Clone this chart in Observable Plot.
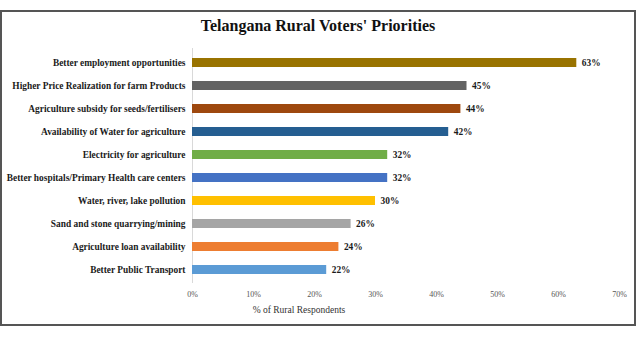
<!DOCTYPE html>
<html>
<head>
<meta charset="utf-8">
<script src="https://cdn.jsdelivr.net/npm/d3@7"></script>
<script src="https://cdn.jsdelivr.net/npm/@observablehq/plot@0.6"></script>
<style>
  html, body { margin: 0; padding: 0; background: #fff; }
  #frame {
    position: absolute; left: 0; top: 10px;
    width: 632px; height: 312px;
    border: 2px solid #555;
    background: #fff;
  }
  #title {
    height: 28px; line-height: 28px;
    text-align: center;
    font-family: "Liberation Serif", serif;
    font-weight: bold; font-size: 16px; color: #111;
  }
</style>
</head>
<body>
<div id="frame">
  <div id="title">Telangana Rural Voters' Priorities</div>
  <div id="chart"></div>
</div>
<script>
const categories = [
  "Better employment opportunities",
  "Higher Price Realization for farm Products",
  "Agriculture subsidy for seeds/fertilisers",
  "Availability of Water for agriculture",
  "Electricity for agriculture",
  "Better hospitals/Primary Health care centers",
  "Water, river, lake pollution",
  "Sand and stone quarrying/mining",
  "Agriculture loan availability",
  "Better Public Transport"
];
const values = [63, 45, 44, 42, 32, 32, 30, 26, 24, 22];
const colors = ["#997300", "#636363", "#9E480E", "#255E91", "#70AD47",
                "#4472C4", "#FFC000", "#A5A5A5", "#ED7D31", "#5B9BD5"];
const xTicks = [0, 10, 20, 30, 40, 50, 60, 70];
const xLabel = "% of Rural Respondents";

const data = categories.map((c, i) => ({category: c, value: values[i], color: colors[i]}));

const chart = Plot.plot({
  width: 632,
  height: 283,
  marginLeft: 190,
  marginRight: 15,
  marginTop: 8,
  marginBottom: 40,
  style: {fontFamily: "Liberation Serif, serif", background: "#fff"},
  x: {domain: [0, 70]},
  y: {domain: categories, paddingInner: 0.62, paddingOuter: 0.3},
  color: {type: "identity"},
  marks: [
    Plot.axisY({tickSize: 0, tickPadding: 7, fontSize: 9.4, fontWeight: "bold", fill: "#1a1a1a", label: null}),
    Plot.axisX({ticks: xTicks, tickSize: 0, tickPadding: 8, fontSize: 8, fill: "#555", tickFormat: d => d + "%", label: null}),
    Plot.ruleX([0], {stroke: "#d9d9d9"}),
    Plot.barX(data, {y: "category", x: "value", fill: "color"}),
    Plot.text(data, {y: "category", x: "value", text: d => d.value + "%", textAnchor: "start", dx: 5, fontSize: 9.4, fontWeight: "bold", fill: "#1a1a1a"}),
    Plot.text([xLabel], {frameAnchor: "bottom", text: d => d, dx: -107, dy: 29, fontSize: 9.5, fill: "#333"})
  ]
});
document.getElementById("chart").appendChild(chart);
</script>
</body>
</html>
